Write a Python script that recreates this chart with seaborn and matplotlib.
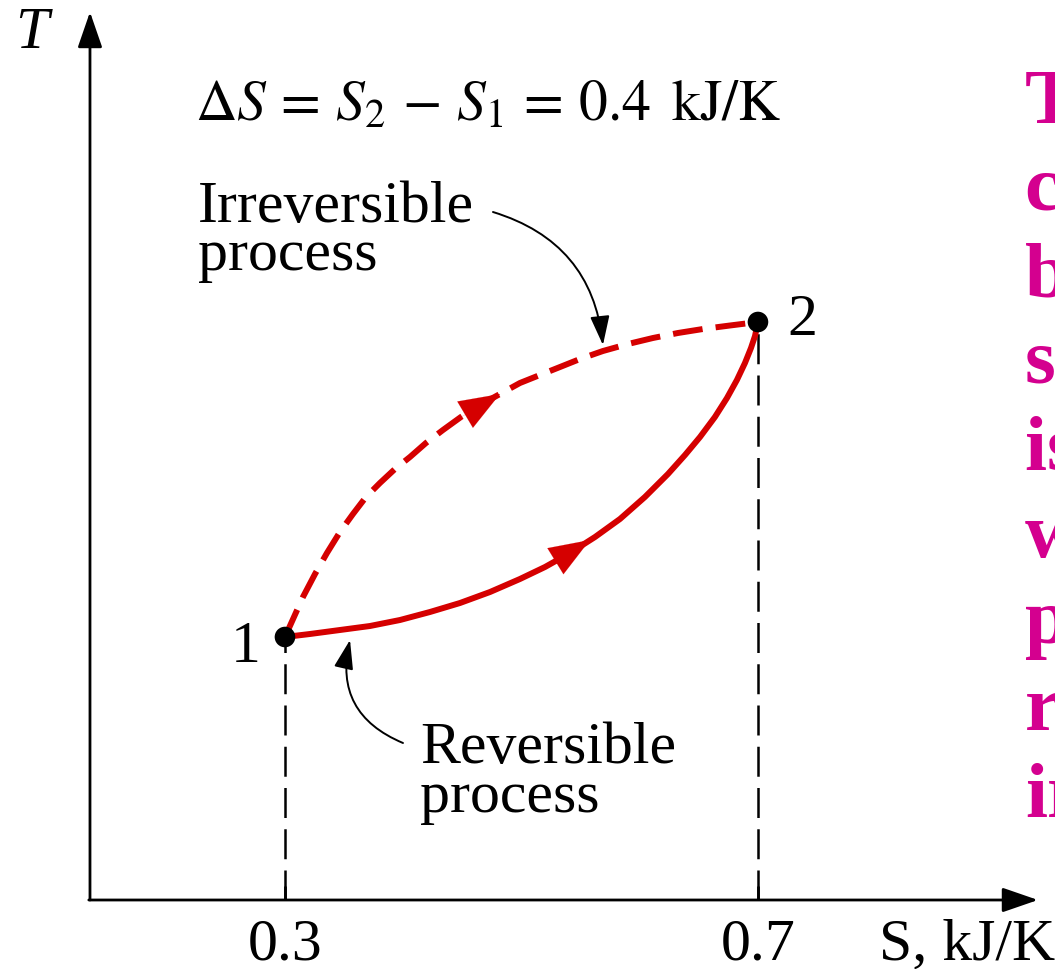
import numpy as np
import pandas as pd
import matplotlib
matplotlib.use("Agg")
import matplotlib.pyplot as plt
import seaborn as sns

# ---------------- data ----------------
S_states = [0.3, 0.7]
T_states = [2.63, 5.78]
state_labels = ["1", "2"]

# reversible process path (solid)
S_rev = [0.3000, 0.3211, 0.3465, 0.3719, 0.3973, 0.4226, 0.4480, 0.4734, 0.4987, 0.5199,
         0.5410, 0.5622, 0.5833, 0.6044, 0.6239, 0.6383, 0.6510, 0.6636, 0.6738, 0.6822,
         0.6890, 0.6941, 0.6975, 0.7000]
T_rev = [2.63, 2.66, 2.70, 2.74, 2.80, 2.88, 2.97, 3.08, 3.21, 3.33,
         3.47, 3.63, 3.81, 4.03, 4.26, 4.45, 4.63, 4.83, 5.02, 5.20,
         5.37, 5.52, 5.64, 5.78]

# irreversible process path (dashed)
S_irr = [0.3000, 0.3076, 0.3152, 0.3254, 0.3355, 0.3465, 0.3575, 0.3685, 0.3803, 0.3930,
         0.4057, 0.4192, 0.4336, 0.4488, 0.4649, 0.4818, 0.4987, 0.5156, 0.5326, 0.5495,
         0.5689, 0.5901, 0.6112, 0.6323, 0.6535, 0.6763, 0.7000]
T_irr = [2.63, 2.83, 3.03, 3.26, 3.47, 3.68, 3.86, 4.03, 4.17, 4.31,
         4.43, 4.57, 4.70, 4.83, 4.95, 5.06, 5.17, 5.25, 5.33, 5.41,
         5.49, 5.56, 5.62, 5.67, 5.71, 5.745, 5.78]

# direction arrows on the paths (tail, head)
rev_arrow_S = [0.5283, 0.5579]
rev_arrow_T = [3.385, 3.60]
irr_arrow_S = [0.4497, 0.4818]
irr_arrow_T = [4.835, 5.06]

tick_values = [0.3, 0.7]
tick_labels = ["0.3", "0.7"]
x_label = "S, kJ/K"
y_label = "T"
delta_S = round(S_states[1] - S_states[0], 1)

side_text = ["The entropy", "change of a", "between two", "specified states", "is the same",
             "whether the", "process is", "reversible or", "irreversible."]

# ---------------- figure ----------------
W, H = 1055, 969
RED = "#D50000"
MAGENTA = "#D4008F"
XLIM = (0.0590, 0.9512)
YLIM = (-0.69, 9.0)

sns.set_theme(style="white")
plt.rcParams["font.family"] = ["Liberation Serif", "DejaVu Serif"]
plt.rcParams["mathtext.fontset"] = "stix"
plt.rcParams["text.color"] = "black"

fig = plt.figure(figsize=(W / 100, H / 100), dpi=100)
ax = fig.add_axes([0, 0, 1, 1])


def fp(x, y):
    return x / W, 1 - y / H


S0, T0 = 0.1351, 0.0
S_end, T_end = 0.9368, 8.88

# axes with arrows
ax.annotate("", xy=(S_end, T0), xytext=(S0 - 0.001, T0),
            arrowprops=dict(arrowstyle="-|>,head_length=1.1,head_width=0.38", mutation_scale=20,
                            lw=2.0, color="black", shrinkA=0, shrinkB=0))
ax.annotate("", xy=(S0, T_end), xytext=(S0, T0),
            arrowprops=dict(arrowstyle="-|>,head_length=1.1,head_width=0.38", mutation_scale=20,
                            lw=2.0, color="black", shrinkA=0, shrinkB=0))
ax.vlines(tick_values, 0, 0.14, color="black", lw=2.0)

# vertical dashed projections
for s, t in zip(S_states, T_states):
    ax.plot([s, s], [0, t], color="black", lw=1.8, linestyle=(0, (12, 4.5)))

# process paths
rev_df = pd.DataFrame({"S": S_rev, "T": T_rev})
irr_df = pd.DataFrame({"S": S_irr, "T": T_irr})
sns.lineplot(data=rev_df, x="S", y="T", sort=False, color=RED, lw=4.3, ax=ax,
             solid_capstyle="round", solid_joinstyle="round")
sns.lineplot(data=irr_df, x="S", y="T", sort=False, color=RED, lw=4.3, ax=ax,
             linestyle=(0, (5.0, 2.2)))

for aS, aT in [(rev_arrow_S, rev_arrow_T), (irr_arrow_S, irr_arrow_T)]:
    ax.annotate("", xy=(aS[1], aT[1]), xytext=(aS[0], aT[0]),
                arrowprops=dict(arrowstyle="-|>,head_length=1.45,head_width=0.55", mutation_scale=20,
                                lw=0.1, color=RED, shrinkA=0, shrinkB=0))

# state points
sns.scatterplot(x=S_states, y=T_states, s=220, color="black", edgecolor="none", zorder=6, ax=ax)
ax.set_xlim(*XLIM)
ax.set_ylim(*YLIM)
ax.axis("off")

FS = 43
ax.annotate(state_labels[0], xy=(S_states[0], T_states[0]), xytext=(-28, -18),
            textcoords="offset points", ha="center", va="baseline", fontsize=FS)
ax.annotate(state_labels[1], xy=(S_states[1], T_states[1]), xytext=(31.7, -9.4),
            textcoords="offset points", ha="center", va="baseline", fontsize=FS)

# tick labels and axis labels
for v, lab in zip(tick_values, tick_labels):
    ax.annotate(lab, xy=(v, 0), xytext=(0, -43), textcoords="offset points",
                ha="center", va="baseline", fontsize=FS)
fig.text(*fp(879, 960), x_label, ha="left", va="baseline", fontsize=FS)
fig.text(*fp(15, 48), y_label, ha="left", va="baseline", fontsize=FS, fontstyle="italic")

# delta S equation
fig.text(*fp(195, 120),
         r"$\Delta S\,=\,S_2\,-\,S_1\,=\,%.1f\ \,\mathrm{kJ/K}$" % delta_S,
         ha="left", va="baseline", fontsize=41.5)

# annotations
fig.text(*fp(198, 222), "Irreversible", ha="left", va="baseline", fontsize=FS)
fig.text(*fp(198, 270), "process", ha="left", va="baseline", fontsize=FS)
fig.text(*fp(420, 763), "Reversible", ha="left", va="baseline", fontsize=FS)
fig.text(*fp(420, 812), "process", ha="left", va="baseline", fontsize=FS)

ax.annotate("", xy=(0.5689, 5.55), xytext=(0.4759, 6.88),
            arrowprops=dict(arrowstyle="-|>,head_length=0.9,head_width=0.3", mutation_scale=20,
                            lw=1.4, color="black", shrinkA=0, shrinkB=0,
                            connectionstyle="arc3,rad=-0.33"))
ax.annotate("", xy=(0.3550, 2.60), xytext=(0.3998, 1.57),
            arrowprops=dict(arrowstyle="-|>,head_length=0.9,head_width=0.3", mutation_scale=20,
                            lw=1.4, color="black", shrinkA=0, shrinkB=0,
                            connectionstyle="arc3,rad=-0.42"))

# cut-off side text
baselines = np.linspace(123, 817, len(side_text))
for b, line in zip(baselines, side_text):
    fig.text(*fp(1025, b), line, ha="left", va="baseline", fontsize=57,
             fontweight="bold", color=MAGENTA)

fig.savefig("out.png", dpi=100)
